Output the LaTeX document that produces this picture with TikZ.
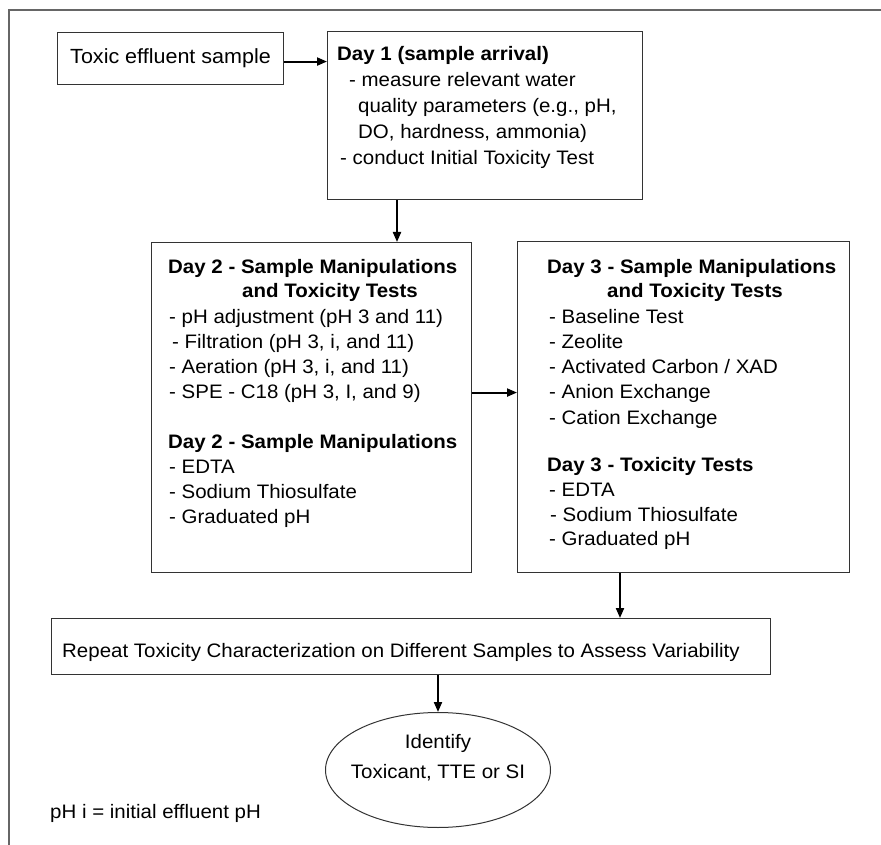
\documentclass[tikz,border=0pt]{standalone}
\usepackage{fontspec}
\setmainfont[FakeStretch=1.05]{Liberation Sans}
\usetikzlibrary{arrows.meta,shapes.geometric}
\begin{document}
\begin{tikzpicture}[x=1pt,y=-1pt,
  box/.style={draw=black!80, line width=1.1pt, inner sep=0pt, anchor=north west},
  txt/.style={anchor=base west, inner sep=0pt, font=\fontsize{19.5}{23}\selectfont},
  hd/.style={txt, font=\fontsize{19.5}{23}\selectfont\bfseries},
  ctr/.style={txt, anchor=base},
  arr/.style={draw=black, line width=2pt, -{Triangle[length=10pt,width=8pt]}},
  frame/.style={draw=black!60, line width=1.5pt}]
\useasboundingbox (0,0) rectangle (881,845);
\draw[frame] (9,845) -- (9,10) -- (881,10);

% Box A
\node[box, minimum width=226pt, minimum height=52pt, font=\fontsize{20.5}{24}\selectfont] (A) at (57,32) {Toxic effluent sample};

% Box B
\node[box, minimum width=315pt, minimum height=168pt] (B) at (327,31) {};
\node[hd]  (b1) at (337,61)  {Day 1 (sample arrival)};
\node[txt] (b2) at (349,87)  {- measure relevant water};
\node[txt] (b3) at (358,113) {quality parameters (e.g., pH,};
\node[txt] (b4) at (358,139) {DO, hardness, ammonia)};
\node[txt] (b5) at (340,165) {- conduct Initial Toxicity Test};

% Box C
\node[box, minimum width=320pt, minimum height=330pt] (C) at (151,242) {};
\node[hd]  (c1)  at (168,273) {Day 2 - Sample Manipulations};
\node[hd]  (c2)  at (242,298) {and Toxicity Tests};
\node[txt] (c3)  at (169,323) {- pH adjustment (pH 3 and 11)};
\node[txt] (c4)  at (172,348) {- Filtration (pH 3, i, and 11)};
\node[txt] (c5)  at (169,373) {- Aeration (pH 3, i, and 11)};
\node[txt] (c6)  at (169,398) {- SPE - C18 (pH 3, I, and 9)};
\node[hd]  (c7)  at (168,448) {Day 2 - Sample Manipulations};
\node[txt] (c8)  at (169,473) {- EDTA};
\node[txt] (c9)  at (169,498) {- Sodium Thiosulfate};
\node[txt] (c10) at (169,523) {- Graduated pH};

% Box D
\node[box, minimum width=332pt, minimum height=331pt] (D) at (517,241) {};
\node[hd]  (d1)  at (547,273) {Day 3 - Sample Manipulations};
\node[hd]  (d2)  at (607,298) {and Toxicity Tests};
\node[txt] (d3)  at (549,323) {- Baseline Test};
\node[txt] (d4)  at (549,348) {- Zeolite};
\node[txt] (d5)  at (549,373) {- Activated Carbon / XAD};
\node[txt] (d6)  at (549,398) {- Anion Exchange};
\node[txt] (d7)  at (549,424) {- Cation Exchange};
\node[hd]  (d8)  at (547,471) {Day 3 - Toxicity Tests};
\node[txt] (d9)  at (549,496) {- EDTA};
\node[txt] (d10) at (550,521) {- Sodium Thiosulfate};
\node[txt] (d11) at (549,545) {- Graduated pH};

% Box E
\node[box, minimum width=719pt, minimum height=56pt] (E) at (51,618) {};
\node[txt] (e1) at (62,657) {Repeat Toxicity Characterization on Different Samples to Assess Variability};

% Ellipse F
\node[draw=black!80, line width=1pt, ellipse, inner sep=0pt, minimum width=225pt, minimum height=115pt] (F) at (438,770) {};
\node[ctr] (f1) at (438,748) {Identify};
\node[ctr] (f2) at (438,778) {Toxicant, TTE or SI};

% note
\node[txt] (note) at (50,818) {pH i = initial effluent pH};

% arrows
\draw[arr] ([yshift=-3pt]A.east) -- ([yshift=-3pt]A.east -| B.west);
\draw[arr] ([xshift=70pt]B.south west) -- ([xshift=70pt]B.south west |- C.north);
\draw[arr] ([yshift=15pt]C.east) -- ([yshift=15pt]C.east -| D.west);
\draw[arr] ([xshift=103pt]D.south west) -- ([xshift=103pt]D.south west |- E.north);
\draw[arr] (F.north |- E.south) -- (F.north);
\end{tikzpicture}
\end{document}
